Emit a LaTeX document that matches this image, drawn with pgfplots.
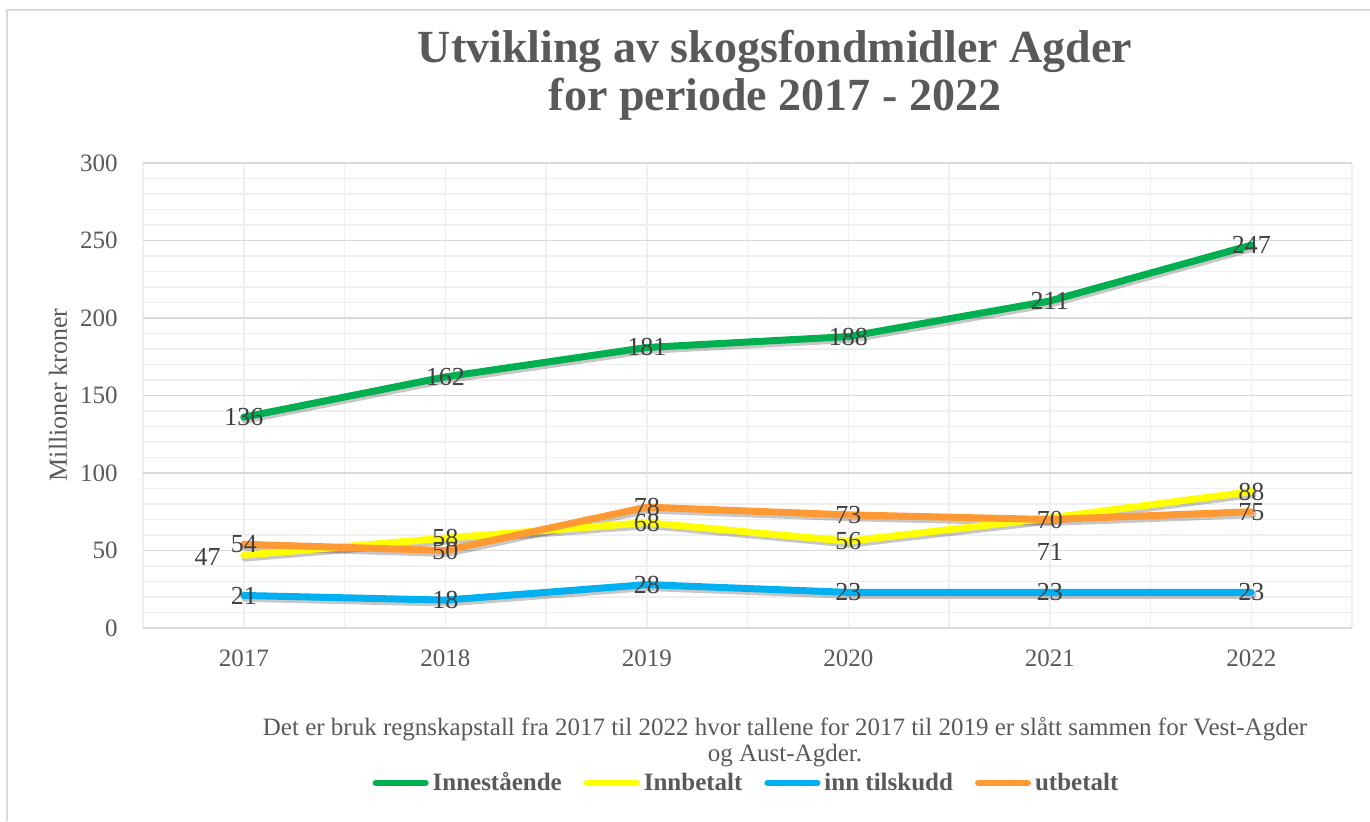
\documentclass[border=0pt]{standalone}
\usepackage{fontspec}
\setmainfont{Liberation Serif}
\usepackage{pgfplots}
\pgfplotsset{compat=1.18}
\usepackage{pgfplotstable}
\definecolor{cgreen}{HTML}{00B050}
\definecolor{cyellow}{HTML}{FFFF00}
\definecolor{cblue}{HTML}{00B0F0}
\definecolor{corange}{HTML}{FF9933}
\definecolor{tgray}{HTML}{595959}
\definecolor{lgray}{HTML}{404040}
\definecolor{gmaj}{HTML}{D9D9D9}
\definecolor{gmin}{HTML}{EFEFEF}

\pgfplotstableread{
x y dx dy
0 136 0 0
1 162 0 0
2 181 0 0
3 188 0 0
4 211 0 0
5 247 0 0
}\tabInn
\pgfplotstableread{
x y dx dy
0 47 -18 -1
1 58 0 0
2 68 0 0
3 56 0 0
4 71 0 -17
5 88 0 0
}\tabBet
\pgfplotstableread{
x y dx dy
0 21 0 0
1 18 0 0
2 28 0 0
3 23 0 0
4 23 0 0
5 23 0 0
}\tabTil
\pgfplotstableread{
x y dx dy
0 54 0 0
1 50 0 0
2 78 0 0
3 73 0 0
4 70 0 0
5 75 0 0
}\tabUtb

\begin{document}
\begin{tikzpicture}
\path[use as bounding box] (0,0) rectangle (685pt,-410.5pt);
\draw[color=gmaj, line width=0.9pt] (3.5pt,-410.5pt) -- (3.5pt,-5pt) -- (685pt,-5pt);

\node[anchor=base, font=\bfseries\fontsize{23}{27}\selectfont, text=tgray] at (387.5pt,-31pt) {Utvikling av skogsfondmidler Agder};
\node[anchor=base, font=\bfseries\fontsize{23}{27}\selectfont, text=tgray] at (387.5pt,-55pt) {for periode 2017 - 2022};

\node[rotate=90, font=\fontsize{13}{15}\selectfont, text=tgray] at (29pt,-197.5pt) {Millioner kroner};

\node[anchor=base, font=\fontsize{12.5}{14}\selectfont, text=tgray] at (392.5pt,-367.5pt) {Det er bruk regnskapstall fra 2017 til 2022 hvor tallene for 2017 til 2019 er slått sammen for Vest-Agder};
\node[anchor=base, font=\fontsize{12.5}{14}\selectfont, text=tgray] at (392.5pt,-380.5pt) {og Aust-Agder.};

\begin{axis}[
  at={(71.5pt,-314pt)}, anchor=south west,
  scale only axis, width=604.5pt, height=232.5pt,
  xmin=-0.5, xmax=5.5, ymin=0, ymax=300,
  xtick={0,...,5}, xticklabels={2017,2018,2019,2020,2021,2022},
  minor xtick={-0.5,0.5,...,5.5},
  ytick={0,50,...,300}, minor ytick={10,20,...,290},
  xmajorgrids, xminorgrids, ymajorgrids, yminorgrids,
  major x grid style={color=gmin, line width=0.75pt},
  minor x grid style={color=gmin, line width=0.75pt},
  major y grid style={color=gmaj, line width=0.75pt},
  minor y grid style={color=gmin, line width=0.75pt},
  major tick length=0pt, minor tick length=0pt,
  axis x line*=bottom, axis y line*=left,
  x axis line style={draw=gmaj, line width=1pt, -},
  y axis line style={draw=none},
  /pgf/number format/assume math mode=true,
  /pgf/number format/1000 sep={},
  tick label style={font=\fontsize{12.5}{14}\selectfont, text=tgray},
  yticklabel style={anchor=east, inner sep=0pt, xshift=-12.5pt},
  xticklabel style={anchor=center, inner sep=0pt, yshift=-15pt},
  legend columns=4,
  legend style={draw=none, fill=none, at={(0.5,-0.333)}, anchor=center,
    font=\bfseries\fontsize{12.5}{14}\selectfont, text=tgray,
    /tikz/every even column/.append style={column sep=9pt},
    nodes={inner sep=2pt}},
  legend image code/.code={\draw[#1, line width=3pt, line cap=round] (0pt,0pt) -- (25pt,0pt);},
  every axis plot/.append style={line join=round, line cap=round},
  clip=false,
]
% shadows
\addplot[forget plot, draw=black, opacity=0.22, line width=3.8pt, xshift=0.8pt, yshift=-1.3pt] table[x=x,y=y] {\tabInn};
\addplot[forget plot, draw=black, opacity=0.22, line width=3.8pt, xshift=0.8pt, yshift=-1.3pt] table[x=x,y=y] {\tabBet};
\addplot[forget plot, draw=black, opacity=0.22, line width=3.8pt, xshift=0.8pt, yshift=-1.3pt] table[x=x,y=y] {\tabTil};
\addplot[forget plot, draw=black, opacity=0.22, line width=3.8pt, xshift=0.8pt, yshift=-1.3pt] table[x=x,y=y] {\tabUtb};
% lines
\addplot[draw=cgreen, line width=3.5pt, mark=none] table[x=x,y=y] {\tabInn};
\addlegendentry{Innestående}
\addplot[draw=cyellow, line width=3.5pt, mark=none] table[x=x,y=y] {\tabBet};
\addlegendentry{Innbetalt}
\addplot[draw=cblue, line width=3.5pt, mark=none] table[x=x,y=y] {\tabTil};
\addlegendentry{inn tilskudd}
\addplot[draw=corange, line width=3.5pt, mark=none] table[x=x,y=y] {\tabUtb};
\addlegendentry{utbetalt}
% labels
\pgfplotsset{lbl/.style={forget plot, draw=none, mark=none,
  nodes near coords, point meta=explicit,
  visualization depends on={\thisrow{dx} \as \dx},
  visualization depends on={\thisrow{dy} \as \dy},
  every node near coord/.append style={anchor=center, inner sep=0pt,
    font=\fontsize{13}{15}\selectfont, text=lgray, xshift=\dx pt, yshift=\dy pt}}}
\addplot[lbl] table[x=x,y=y,meta=y] {\tabInn};
\addplot[lbl] table[x=x,y=y,meta=y] {\tabBet};
\addplot[lbl] table[x=x,y=y,meta=y] {\tabTil};
\addplot[lbl] table[x=x,y=y,meta=y] {\tabUtb};
\end{axis}
\end{tikzpicture}
\end{document}
